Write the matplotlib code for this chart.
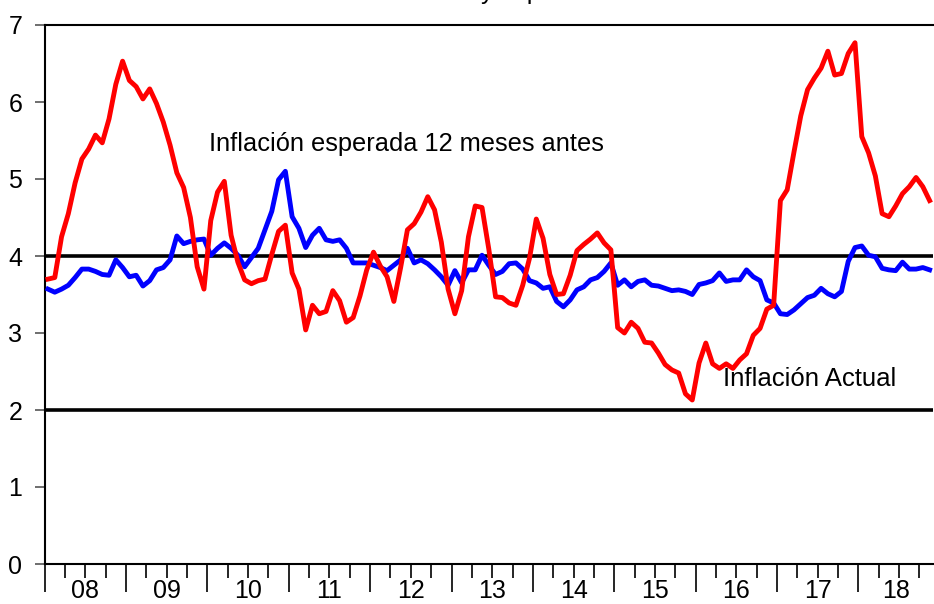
import numpy as np
import matplotlib
matplotlib.use("Agg")
import matplotlib.pyplot as plt
import matplotlib.transforms as mtransforms

plt.rcParams['font.family'] = ['Liberation Sans', 'DejaVu Sans']

# monthly data, Jan 2008 - Nov 2018
years = ['08', '09', '10', '11', '12', '13', '14', '15', '16', '17', '18']

actual = [3.70, 3.72, 4.25, 4.55, 4.95, 5.26, 5.39, 5.57, 5.47, 5.78, 6.23, 6.53,
          6.28, 6.20, 6.04, 6.17, 5.98, 5.74, 5.44, 5.08, 4.89, 4.50, 3.86, 3.57,
          4.46, 4.83, 4.97, 4.27, 3.92, 3.69, 3.64, 3.68, 3.70, 4.02, 4.32, 4.40,
          3.78, 3.57, 3.04, 3.36, 3.25, 3.28, 3.55, 3.42, 3.14, 3.20, 3.48, 3.82,
          4.05, 3.87, 3.73, 3.41, 3.85, 4.34, 4.42, 4.57, 4.77, 4.60, 4.18, 3.57,
          3.25, 3.55, 4.25, 4.65, 4.63, 4.09, 3.47, 3.46, 3.39, 3.36, 3.62, 3.97,
          4.48, 4.23, 3.76, 3.50, 3.51, 3.75, 4.07, 4.15, 4.22, 4.30, 4.17, 4.08,
          3.07, 3.00, 3.14, 3.06, 2.88, 2.87, 2.74, 2.59, 2.52, 2.48, 2.21, 2.13,
          2.61, 2.87, 2.60, 2.54, 2.60, 2.54, 2.65, 2.73, 2.97, 3.06, 3.31, 3.36,
          4.72, 4.86, 5.35, 5.82, 6.16, 6.31, 6.44, 6.66, 6.35, 6.37, 6.63, 6.77,
          5.55, 5.34, 5.04, 4.55, 4.51, 4.65, 4.81, 4.90, 5.02, 4.90, 4.72]

expected = [3.57, 3.53, 3.57, 3.62, 3.72, 3.83, 3.83, 3.80, 3.76, 3.75, 3.95, 3.85,
            3.73, 3.75, 3.61, 3.68, 3.82, 3.85, 3.95, 4.26, 4.16, 4.19, 4.21, 4.22,
            4.01, 4.10, 4.17, 4.10, 4.01, 3.86, 3.98, 4.10, 4.34, 4.58, 4.99, 5.10,
            4.51, 4.36, 4.11, 4.27, 4.36, 4.21, 4.19, 4.21, 4.10, 3.91, 3.91, 3.91,
            3.88, 3.85, 3.81, 3.88, 3.95, 4.10, 3.91, 3.95, 3.90, 3.82, 3.73, 3.62,
            3.81, 3.65, 3.82, 3.82, 4.01, 3.88, 3.76, 3.80, 3.90, 3.91, 3.83, 3.68,
            3.65, 3.58, 3.60, 3.41, 3.34, 3.43, 3.56, 3.60, 3.69, 3.72, 3.80, 3.91,
            3.62, 3.69, 3.60, 3.67, 3.69, 3.62, 3.61, 3.58, 3.55, 3.56, 3.54, 3.50,
            3.63, 3.65, 3.68, 3.78, 3.67, 3.69, 3.69, 3.82, 3.73, 3.68, 3.43, 3.39,
            3.25, 3.24, 3.30, 3.38, 3.46, 3.49, 3.58, 3.51, 3.47, 3.54, 3.93, 4.11,
            4.13, 4.01, 3.99, 3.84, 3.82, 3.81, 3.92, 3.83, 3.83, 3.85, 3.82]

band = [2, 4]

n = len(actual)
x = np.arange(n)

fig = plt.figure(figsize=(9.34, 6.04), dpi=100)
ax = fig.add_axes([44.6 / 934, 40 / 604, (933 - 44.6) / 934, (564 - 25) / 604])

for b in band:
    ax.axhline(b, color='black', lw=2.6, zorder=1)
ax.plot(x, expected, color='#0000ff', lw=3.5, zorder=3)
ax.plot(x, actual, color='#ff0000', lw=3.5, zorder=4)

ax.set_xlim(-0.5, n - 0.5)
ax.set_ylim(0, 7)

ax.spines['right'].set_visible(False)
for s in ['top', 'left', 'bottom']:
    ax.spines[s].set_linewidth(1.5)

ax.set_yticks(range(8))
ax.tick_params(axis='y', direction='out', length=7, width=1.2, pad=9,
               labelsize=18, color='#555555')
ax.set_xticks(np.arange(0, n, 12) - 0.5)
ax.set_xticklabels([])
ax.set_xticks(np.arange(0, n, 3) - 0.5, minor=True)
ax.tick_params(axis='x', which='major', direction='out', length=20, width=1.2)
ax.tick_params(axis='x', which='minor', direction='out', length=10, width=1.2)

trans = mtransforms.blended_transform_factory(ax.transData, ax.transAxes)
for k, lab in enumerate(years):
    start = 12 * k - 0.5
    end = min(12 * k + 11.5, n - 0.5)
    ax.text((start + end) / 2, -0.05, lab, transform=trans, ha='center',
            va='center', fontsize=18)

ax.text(23.8, 5.45, 'Inflación esperada 12 meses antes', fontsize=18.3,
        ha='left', va='center')
ax.text(99.5, 2.4, 'Inflación Actual', fontsize=18.5, ha='left', va='center')

# title cut off at the top of the image
fig.text(476 / 934, 1.0 + 1 / 604, 'Inflación actual', fontsize=18, ha='right', va='baseline')
fig.text(481 / 934, 1.0 + 1 / 604, 'y esperada', fontsize=18, ha='left', va='baseline')

fig.savefig('out.png', dpi=100)
